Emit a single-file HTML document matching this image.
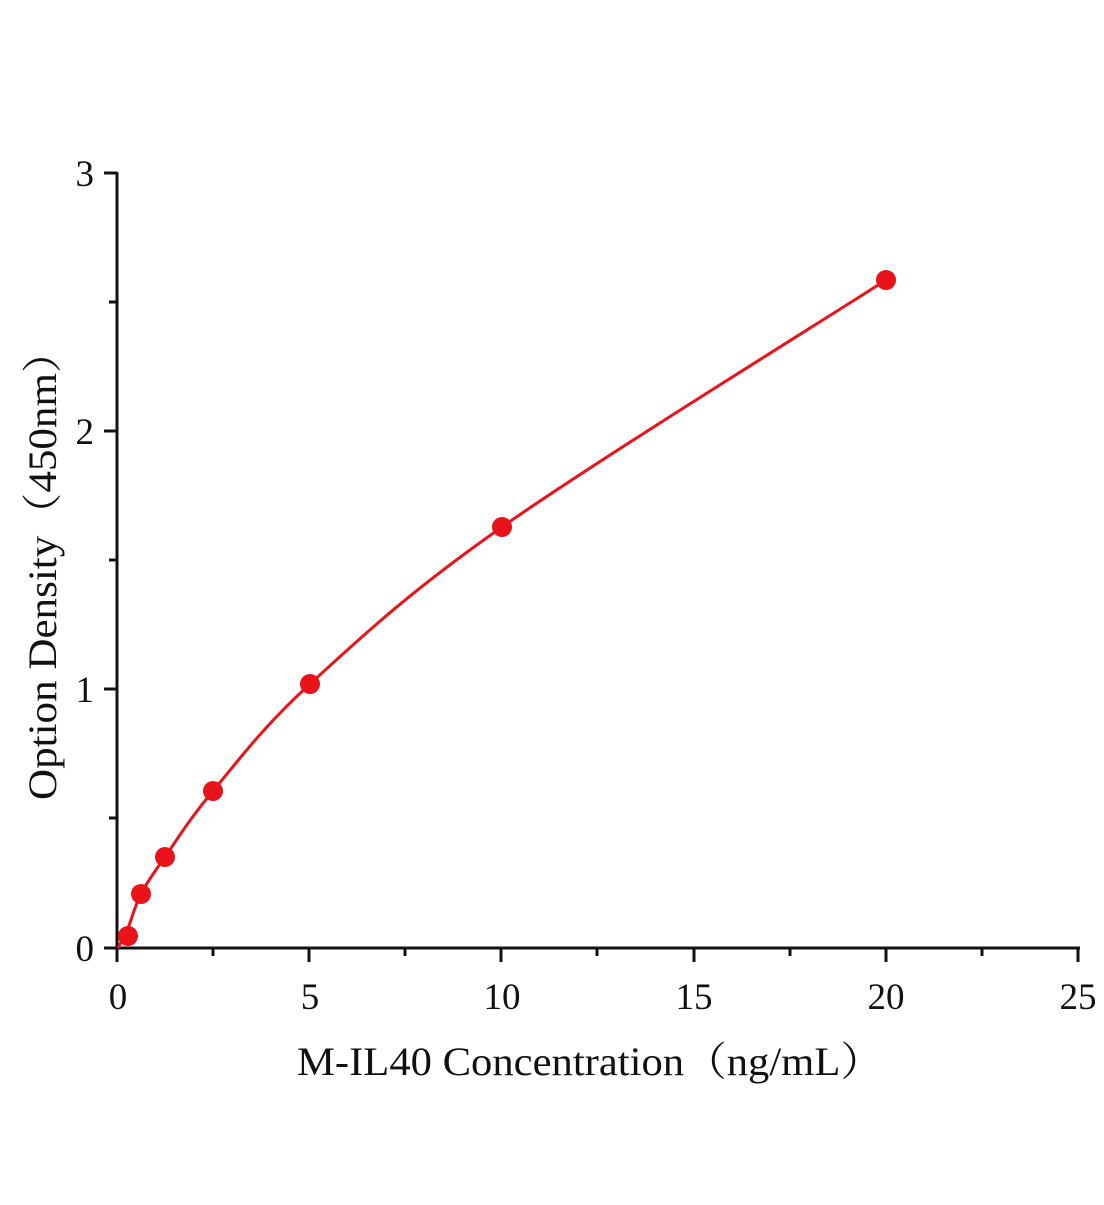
<!DOCTYPE html>
<html><head><meta charset="utf-8"><style>
html,body{margin:0;padding:0;background:#fff;}
svg text{font-family:"Liberation Serif","Noto Serif CJK SC",serif;fill:#111;}
</style></head><body>
<svg id="s" width="1104" height="1200" viewBox="0 0 1104 1200" xmlns="http://www.w3.org/2000/svg">
<g stroke="#111" stroke-width="3" fill="none">
<line x1="117" y1="172" x2="117" y2="949"/>
<line x1="116" y1="948" x2="1080" y2="948"/>
<line x1="104" y1="173" x2="117" y2="173"/>
<line x1="109" y1="302" x2="117" y2="302"/>
<line x1="104" y1="431" x2="117" y2="431"/>
<line x1="109" y1="560" x2="117" y2="560"/>
<line x1="104" y1="689" x2="117" y2="689"/>
<line x1="109" y1="818" x2="117" y2="818"/>
<line x1="104" y1="948" x2="117" y2="948"/>
<line x1="117" y1="948" x2="117" y2="962"/>
<line x1="213" y1="948" x2="213" y2="956"/>
<line x1="309" y1="948" x2="309" y2="962"/>
<line x1="405" y1="948" x2="405" y2="956"/>
<line x1="501" y1="948" x2="501" y2="962"/>
<line x1="597" y1="948" x2="597" y2="956"/>
<line x1="694" y1="948" x2="694" y2="962"/>
<line x1="790" y1="948" x2="790" y2="956"/>
<line x1="886" y1="948" x2="886" y2="962"/>
<line x1="982" y1="948" x2="982" y2="956"/>
<line x1="1078" y1="948" x2="1078" y2="962"/>
</g>
<g font-size="37" text-anchor="end">
<text x="94" y="186">3</text>
<text x="94" y="444">2</text>
<text x="94" y="702">1</text>
<text x="94" y="961">0</text>
</g>
<g font-size="37" text-anchor="middle">
<text x="118" y="1009">0</text>
<text x="310" y="1009">5</text>
<text x="502" y="1009">10</text>
<text x="694" y="1009">15</text>
<text x="886" y="1009">20</text>
<text x="1078" y="1009">25</text>
</g>
<text x="590" y="1075" font-size="40" text-anchor="middle" textLength="586" lengthAdjust="spacingAndGlyphs">M-IL40 Concentration（ng/mL）</text>
<text transform="translate(56,565) rotate(-90)" font-size="40" text-anchor="middle" textLength="470" lengthAdjust="spacingAndGlyphs">Option Density（450nm）</text>
<path id="curve" fill="none" stroke="#e8141a" stroke-width="3"/>
<g fill="#e8141a">
<circle cx="128" cy="936" r="10"/>
<circle cx="141" cy="894" r="10"/>
<circle cx="165" cy="857" r="10"/>
<circle cx="213" cy="791" r="10"/>
<circle cx="310" cy="684" r="10"/>
<circle cx="502" cy="527" r="10"/>
<circle cx="886" cy="280" r="10"/>
</g>
</svg>
<script>
var p=[[118,948],[128,928],[141,894],[165,857],[213,791],[310,684],[502,527],[886,280]];
var d="M"+p[0][0]+","+p[0][1];
for(var i=0;i<p.length-1;i++){
 var p0=p[i>0?i-1:0],p1=p[i],p2=p[i+1],p3=p[i+2<p.length?i+2:i+1];
 var c1=[p1[0]+(p2[0]-p0[0])/6,p1[1]+(p2[1]-p0[1])/6];
 var c2=[p2[0]-(p3[0]-p1[0])/6,p2[1]-(p3[1]-p1[1])/6];
 d+=" C"+c1[0]+","+c1[1]+" "+c2[0]+","+c2[1]+" "+p2[0]+","+p2[1];
}
document.getElementById("curve").setAttribute("d",d);
</script>
</body></html>
